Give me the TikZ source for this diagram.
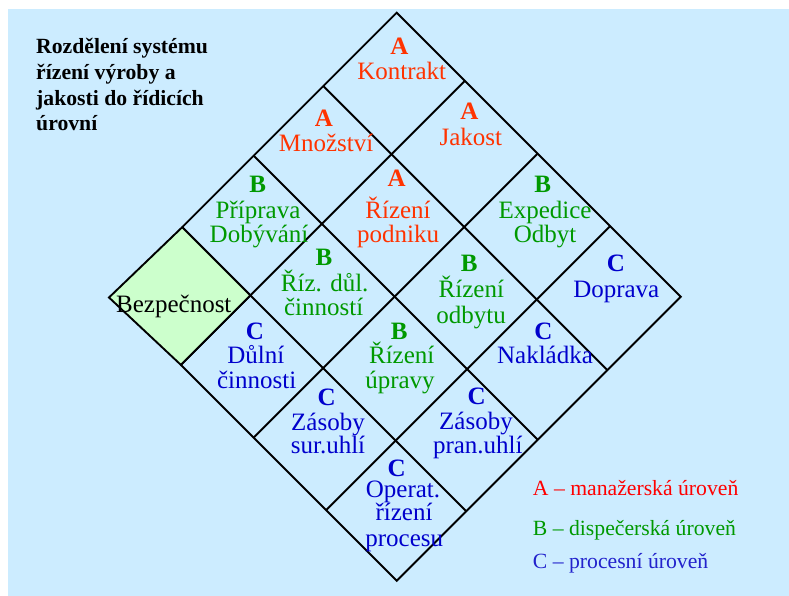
\documentclass[tikz,border=0pt]{standalone}
\usepackage{fontspec}
\setmainfont{Liberation Serif}
\definecolor{bgblue}{HTML}{CCECFF}
\definecolor{lvA}{HTML}{FF3300}
\definecolor{lvAleg}{HTML}{FF0000}
\definecolor{lvB}{HTML}{009900}
\definecolor{lvC}{HTML}{0000CC}
\definecolor{lvCleg}{HTML}{2222CC}
\definecolor{greenfill}{HTML}{CCFFCC}
\tikzset{
  gridline/.style={line width=1.9pt, draw=black},
  txt/.style={inner sep=0pt, anchor=base, font=\fontsize{25}{30}\selectfont},
  lett/.style={inner sep=0pt, anchor=base, font=\fontsize{25}{30}\selectfont\bfseries},
  levA/.style={text=lvA},
  levB/.style={text=lvB},
  levC/.style={text=lvC},
  ttl/.style={inner sep=0pt, anchor=base west, font=\fontsize{21.7}{26}\selectfont\bfseries},
  leg/.style={inner sep=0pt, anchor=base west, font=\fontsize{21.7}{26}\selectfont},
}
\begin{document}
\begin{tikzpicture}[x=1pt,y=-1pt]
\useasboundingbox (0,0) rectangle (789,596);
\fill[bgblue] (8,9) rectangle (789,596);
% grid points
\foreach \s [count=\i from 0] in {409.4,545.7,691.3,836.3,977.4} {
  \foreach \d [count=\j from 0] in {-384,-237.3,-98,45,184} {
    \coordinate (p\i\j) at ({(\s-(\d))/2},{(\s+(\d))/2});
  }
}
\coordinate (bzL) at (109,297.5);
% outer boundary
\draw[gridline] (p03) -- (p00) -- (p40) -- (p44) -- (p14);
% inner lines
\foreach \k in {1,2,3} {
  \draw[gridline] (p\k0) -- (p\k4);
  \draw[gridline] (p0\k) -- (p4\k);
}
% Bezpecnost cell
\draw[gridline, fill=greenfill] (p03) -- (p13) -- (p14) -- (bzL) -- cycle;

% title
\node[ttl] (t1) at (36,54) {Rozdělení systému};
\node[ttl] (t2) at (36,80) {řízení výroby a};
\node[ttl] (t3) at (36,105.5) {jakosti do řídicích};
\node[ttl] (t4) at (36,131) {úrovní};

% A cells
\node[lett,levA] (kL) at (399.3,55) {A};
\node[txt,levA] (k1) at (401.7,80) {Kontrakt};
\node[lett,levA] (jL) at (469.3,120) {A};
\node[txt,levA] (j1) at (470.8,145.3) {Jakost};
\node[lett,levA] (mL) at (324,126.7) {A};
\node[txt,levA] (m1) at (326,151.7) {Množství};
\node[lett,levA] (rpL) at (396.7,186.7) {A};
\node[txt,levA] (rp1) at (398,218.3) {Řízení};
\node[txt,levA] (rp2) at (398.2,242.3) {podniku};

% B cells
\node[lett,levB] (pL) at (257.7,192.3) {B};
\node[txt,levB] (p1) at (258,218.3) {Příprava};
\node[txt,levB] (p2) at (259,242.3) {Dobývání};
\node[lett,levB] (eL) at (542.7,192.7) {B};
\node[txt,levB] (e1) at (545,218.3) {Expedice};
\node[txt,levB] (e2) at (545,242.3) {Odbyt};
\node[lett,levB] (dcL) at (324,265.7) {B};
\node[txt,levB] (dc1) at (324.7,291.7) {Říz. důl.};
\node[txt,levB] (dc2) at (323.7,315.7) {činností};
\node[lett,levB] (roL) at (469.3,271) {B};
\node[txt,levB] (ro1) at (471.3,297.3) {Řízení};
\node[txt,levB] (ro2) at (471.2,323.3) {odbytu};
\node[lett,levB] (ruL) at (399.3,339) {B};
\node[txt,levB] (ru1) at (401.7,363.3) {Řízení};
\node[txt,levB] (ru2) at (400,388.3) {úpravy};

% C cells
\node[lett,levC] (doL) at (616,271.7) {C};
\node[txt,levC] (do1) at (616.3,297.3) {Doprava};
\node[lett,levC] (naL) at (543.3,339) {C};
\node[txt,levC] (na1) at (545,363.3) {Nakládka};
\node[lett,levC] (duL) at (255,339) {C};
\node[txt,levC] (du1) at (255.8,363.3) {Důlní};
\node[txt,levC] (du2) at (256.7,388.3) {činnosti};
\node[lett,levC] (zsL) at (326.7,405) {C};
\node[txt,levC] (zs1) at (328,430) {Zásoby};
\node[txt,levC] (zs2) at (328,453.3) {sur.uhlí};
\node[lett,levC] (zpL) at (476.7,404.3) {C};
\node[txt,levC] (zp1) at (476,429.3) {Zásoby};
\node[txt,levC] (zp2) at (477.8,453.3) {pran.uhlí};
\node[lett,levC] (opL) at (396.7,476.5) {C};
\node[txt,levC] (op1) at (403,497.2) {Operat.};
\node[txt,levC] (op2) at (404,520.7) {řízení};
\node[txt,levC] (op3) at (404.2,546.7) {procesu};

% Bezpecnost
\node[txt] (bz) at (173.8,312.3) {Bezpečnost};

% legend
\node[leg,text=lvAleg] (lA) at (532.7,495.7) {A – manažerská úroveň};
\node[leg,text=lvB] (lB) at (532.7,535) {B – dispečerská úroveň};
\node[leg,text=lvCleg] (lC) at (532.7,568.3) {C – procesní úroveň};
\end{tikzpicture}
\end{document}
